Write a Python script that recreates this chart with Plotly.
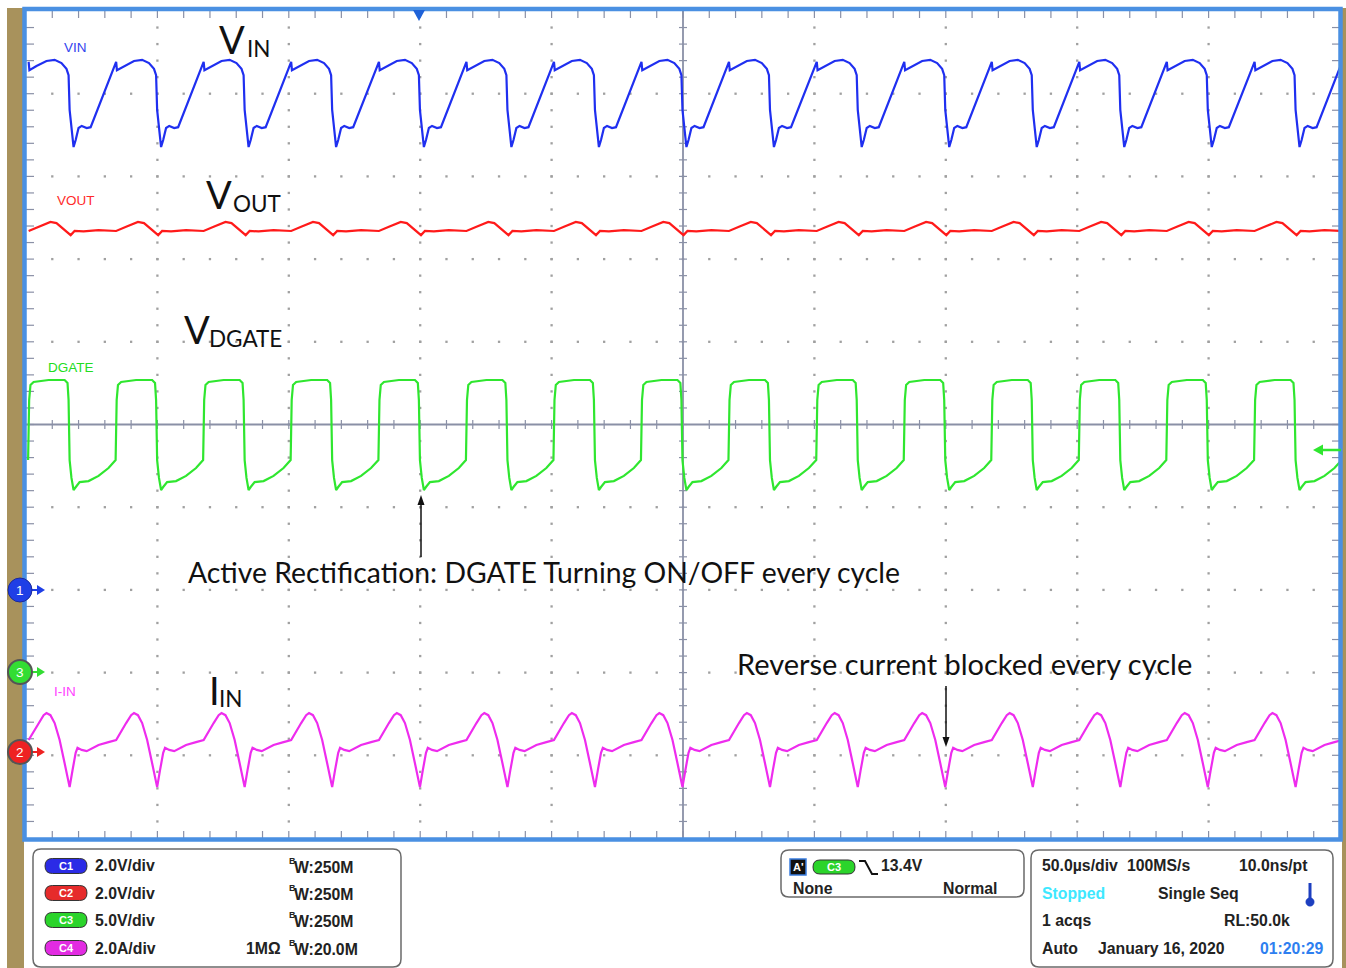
import plotly.graph_objects as go

# ---------------- data read from the scope capture ----------------
# time (us) of each cycle's switching edge (VIN drop / DGATE turn-off); last one is off-screen
cycle_edges_us = [-233.8, -200.5, -167.2, -133.9, -100.5, -67.2, -33.9, -0.6,
                  32.7, 66.1, 99.4, 132.7, 166.0, 199.3, 232.7, 266.0]

# one cycle of each waveform: time relative to the edge (us) and value
vin_dt = [-15.2, -14.9, -12.2, -8.4, -5.3, -2.7, -0.8, 0.0, 0.4, 1.1, 1.9, 2.7, 3.8, 5.0, 6.9, 8.4]
vin_v = [12.77, 12.57, 12.67, 12.79, 12.82, 12.74, 12.60, 12.45, 11.61, 11.12, 10.71, 10.88,
         11.17, 11.22, 11.17, 11.19]

vout_dt = [-15.2, -11.4, -6.9, -4.6, -2.3, 0.0, 0.8, 2.3, 5.7, 11.4, 17.1]
vout_v = [12.68, 12.78, 12.90, 12.87, 12.75, 12.61, 12.58, 12.68, 12.67, 12.70, 12.68]

dgate_dt = [-15.4, -15.0, -14.5, -13.3, -7.6, -1.5, -0.4, 0.0, 0.4, 1.1, 1.9, 2.7, 4.2, 7.6,
            11.4, 15.2, 17.5]
dgate_v = [12.85, 16.48, 17.39, 17.57, 17.69, 17.69, 17.51, 16.48, 12.85, 11.77, 11.04, 11.22,
           11.52, 11.58, 11.89, 12.37, 12.79]

iin_dt = [-15.2, -11.4, -9.5, -8.4, -6.9, -5.3, -3.4, -1.5, 0.4, 1.5, 2.7, 3.4, 5.0, 6.9,
          11.4, 15.2, 17.5]
iin_a = [0.37, 0.78, 0.97, 1.02, 0.97, 0.78, 0.37, -0.19, -0.77, -0.36, 0.06, 0.18, 0.13,
         0.10, 0.25, 0.32, 0.35]

channel_labels = ["VIN", "VOUT", "DGATE", "I-IN"]
channel_scale = [2.0, 2.0, 5.0, 2.0]          # units per division
channel_offset_div = [-2, -4, -3, -4]          # ground marker position (div)
channel_colors = ["#1f2ff0", "#ff1a1a", "#2fe62f", "#ee2cee"]
panel_badges = ["C1", "C2", "C3", "C4"]
panel_scales = ["2.0V/div", "2.0V/div", "5.0V/div", "2.0A/div"]
panel_bw = ["250M", "250M", "250M", "20.0M"]
badge_colors = ["#2b2be6", "#e62b2b", "#2bd42b", "#e22be2"]

# ---------------- geometry ----------------
IMG_W, IMG_H = 1346, 968
L, R, T, B = 26, 1340, 11, 838
PW, PH = R - L, B - T
X_RANGE = [-250, 250]
Y_RANGE = [-5, 5]
UX = (X_RANGE[1] - X_RANGE[0]) / PW
UY = (Y_RANGE[1] - Y_RANGE[0]) / PH


def fx(x):
    return (x - L) / PW


def fy(y):
    return (B - y) / PH


fig = go.Figure()

# ---------------- graticule ----------------
gx, gy = [], []
for i in range(1, 10):
    xv = -250 + 50 * i
    if xv == 0:
        continue
    for j in range(1, 50):
        gx.append(xv)
        gy.append(-5 + 0.2 * j)
for i in range(1, 10):
    yv = -5 + i
    if yv == 0:
        continue
    for j in range(1, 50):
        gx.append(-250 + 10 * j)
        gy.append(yv)
fig.add_trace(go.Scatter(x=gx, y=gy, mode="markers", hoverinfo="skip",
                         marker=dict(size=2.3, color="#a0a0a0", symbol="square", line=dict(width=0))))

tx, ty = [], []


def seg(x0, y0, x1, y1):
    tx.extend([x0, x1, None])
    ty.extend([y0, y1, None])


for j in range(1, 50):
    xv = -250 + 10 * j
    seg(xv, 5, xv, 5 - 7 * UY)
    seg(xv, -5, xv, -5 + 7 * UY)
    seg(xv, -4.5 * UY, xv, 4.5 * UY)
for j in range(1, 50):
    yv = -5 + 0.2 * j
    seg(-250, yv, -250 + 8 * UX, yv)
    seg(250, yv, 250 - 8 * UX, yv)
    seg(-4 * UX, yv, 4 * UX, yv)
fig.add_trace(go.Scatter(x=tx, y=ty, mode="lines", hoverinfo="skip",
                         line=dict(color="#8a90a6", width=1.2)))
fig.add_trace(go.Scatter(x=[-250, 250, None, 0, 0], y=[0, 0, None, -5, 5], mode="lines",
                         hoverinfo="skip", line=dict(color="#8a90a6", width=1.8)))

# ---------------- waveforms ----------------


def build(dt, vals, scale, off):
    xs, ys = [], []
    for e in cycle_edges_us:
        for t, v in zip(dt, vals):
            xs.append(e + t)
            ys.append(v / scale + off)
    return xs, ys


for k, (dt, vals) in enumerate([(vin_dt, vin_v), (vout_dt, vout_v),
                                (dgate_dt, dgate_v), (iin_dt, iin_a)]):
    xs, ys = build(dt, vals, channel_scale[k], channel_offset_div[k])
    fig.add_trace(go.Scatter(x=xs, y=ys, mode="lines", hoverinfo="skip",
                             line=dict(color=channel_colors[k], width=2.2)))

# ---------------- shapes ----------------
shapes = []


def rect(x0, y0, x1, y1, fill=None, line=None, lw=0, layer="above"):
    shapes.append(dict(type="rect", xref="paper", yref="paper", x0=fx(x0), x1=fx(x1),
                       y0=fy(y1), y1=fy(y0), fillcolor=fill or "rgba(0,0,0,0)",
                       line=dict(color=line or "rgba(0,0,0,0)", width=lw), layer=layer))


def path(pts, fill=None, line=None, lw=0, closed=True, layer="above"):
    s = "M " + " L ".join(f"{fx(x):.6f},{fy(y):.6f}" for x, y in pts)
    if closed:
        s += " Z"
    shapes.append(dict(type="path", xref="paper", yref="paper", path=s,
                       fillcolor=fill or "rgba(0,0,0,0)",
                       line=dict(color=line or "rgba(0,0,0,0)", width=lw), layer=layer))


def rrect(x0, y0, x1, y1, r, fill="white", line="#6a6a6a", lw=1.5, layer="above"):
    def p(x, y):
        return f"{fx(x):.6f},{fy(y):.6f}"
    s = (f"M {p(x0 + r, y0)} L {p(x1 - r, y0)} Q {p(x1, y0)} {p(x1, y0 + r)} "
         f"L {p(x1, y1 - r)} Q {p(x1, y1)} {p(x1 - r, y1)} L {p(x0 + r, y1)} "
         f"Q {p(x0, y1)} {p(x0, y1 - r)} L {p(x0, y0 + r)} Q {p(x0, y0)} {p(x0 + r, y0)} Z")
    shapes.append(dict(type="path", xref="paper", yref="paper", path=s, fillcolor=fill,
                       line=dict(color=line, width=lw), layer=layer))


def circle(cx, cy, r, fill, line, lw):
    shapes.append(dict(type="circle", xref="paper", yref="paper", x0=fx(cx - r), x1=fx(cx + r),
                       y0=fy(cy + r), y1=fy(cy - r), fillcolor=fill,
                       line=dict(color=line, width=lw), layer="above"))


def lineseg(x0, y0, x1, y1, color, lw):
    shapes.append(dict(type="line", xref="paper", yref="paper", x0=fx(x0), x1=fx(x1),
                       y0=fy(y0), y1=fy(y1), line=dict(color=color, width=lw), layer="above"))


# tan bezel strips
rect(7, 8, 24, IMG_H, fill="#a8925c", layer="below")
rect(1342, 8, IMG_W, IMG_H, fill="#a8925c", layer="below")
# blue graticule frame
rect(24.5, 9, 1340.5, 839.5, line="#4a90e2", lw=4.5)
# trigger position marker at top
path([(413, 10), (425, 10), (419, 21)], fill="#1e62d8")
# trigger level arrow on right
lineseg(1320, 450, 1341, 450, "#2fe62f", 2.5)
path([(1323, 444.5), (1323, 455.5), (1313, 450)], fill="#2fe62f")

annotations = []
PANEL_FONT = "Liberation Sans, Arial, sans-serif"
BIG_FONT = "Lato, Open Sans, sans-serif"
PS = 15.8  # panel font size


def txt(s, x, y, size, color="#222", anchor="left", family=PANEL_FONT, weight="normal"):
    annotations.append(dict(text=s, x=fx(x), y=fy(y), xref="paper", yref="paper",
                            xanchor=anchor, yanchor="middle", showarrow=False,
                            font=dict(size=size, color=color, family=family, weight=weight)))


# ground markers
for num, cy, fill, border in [("1", 590, "#1f3fe6", "#1a2a9a"),
                              ("3", 672, "#33dd33", "#555555"),
                              ("2", 752, "#ee2222", "#555555")]:
    lineseg(30, cy, 39, cy, fill, 2)
    path([(37, cy - 5), (37, cy + 5), (45, cy)], fill=fill)
    circle(20, cy, 12, fill, border, 2 if num != "1" else 1)
    txt(num, 20, cy, 13.5, color="white", anchor="center")

# arrows on the plot
lineseg(421, 557, 421, 503, "#111", 1.5)
path([(417.5, 505), (424.5, 505), (421, 495)], fill="#111")
lineseg(946, 686, 946, 739, "#111", 1.5)
path([(942.5, 737), (949.5, 737), (946, 747)], fill="#111")

# ---------------- bottom panels ----------------
rrect(33, 849, 401, 967, 8)
rrect(781, 850, 1024, 897, 8)
rrect(1031, 850, 1333, 967, 8)

row_y = [866, 893, 920, 948]
for k in range(4):
    cy = row_y[k]
    rrect(45, cy - 7.5, 87, cy + 7.5, 7.5, fill=badge_colors[k], line="#333333", lw=1)
    txt(panel_badges[k], 66, cy, 11, color="white", anchor="center", weight="bold")
    txt(panel_scales[k], 93, cy, PS, weight="bold")
    txt("B", 287, cy - 5, 9, weight="bold")
    txt("W:" + panel_bw[k], 292, cy + 1, PS, weight="bold")
txt("1MΩ", 244, row_y[3], PS, weight="bold")

# trigger box
rect(790, 859, 806, 875, fill="#111111", line="#3a7de0", lw=1.5)
txt("A'", 798, 867, 11, color="white", anchor="center", weight="bold")
rrect(813, 860, 855, 874, 7, fill="#2bd42b", line="#333333", lw=1)
txt("C3", 834, 867, 11, color="white", anchor="center", weight="bold")
path([(859, 861), (865, 861), (872, 874), (878, 874)], line="#111", lw=2, closed=False)
txt("13.4V", 879, 866, PS, weight="bold")
txt("None", 791, 888, PS, weight="bold")
txt("Normal", 999, 888, PS, weight="bold", anchor="right")

# acquisition box
txt("50.0µs/div", 1040, 866, PS, weight="bold")
txt("100MS/s", 1125, 866, PS, weight="bold")
txt("10.0ns/pt", 1310, 866, PS, weight="bold", anchor="right")
txt("Stopped", 1040, 893, PS, color="#3ee8ff", weight="bold")
txt("Single Seq", 1156, 893, PS, weight="bold")
lineseg(1310, 883, 1310, 899, "#1d3fc0", 3)
circle(1310, 902, 4.2, "#1d3fc0", "#1d3fc0", 0.5)
txt("1 acqs", 1040, 920, PS, weight="bold")
txt("RL:50.0k", 1292, 920, PS, weight="bold", anchor="right")
txt("Auto", 1040, 948, PS, weight="bold")
txt("January 16, 2020", 1096, 948, PS, weight="bold")
txt("01:20:29", 1325, 948, PS, color="#2e7ff0", weight="bold", anchor="right")

# ---------------- channel labels on screen ----------------
NARROW = "Liberation Sans Narrow, Arial Narrow, Liberation Sans, sans-serif"
txt(channel_labels[0], 62, 47, 13.5, color="#3344ee", family=NARROW)
txt(channel_labels[1], 55, 201, 13.5, color="#ff2a2a", family=NARROW)
txt(channel_labels[2], 46, 367, 13.5, color="#22dd22", family=NARROW)
txt(channel_labels[3], 52, 691, 13.5, color="#ff44ff", family=NARROW)

# ---------------- big annotations ----------------
BIGC = "#111111"
SUB = 22.5
txt("V", 217, 39, 38, color=BIGC, family=BIG_FONT)
txt("IN", 245, 48.5, SUB, color=BIGC, family=BIG_FONT)
txt("V", 204, 193.5, 38, color=BIGC, family=BIG_FONT)
txt("OUT", 231, 203.5, SUB, color=BIGC, family=BIG_FONT)
txt("V", 182, 328.5, 38, color=BIGC, family=BIG_FONT)
txt("DGATE", 207, 338.5, SUB, color=BIGC, family=BIG_FONT)
txt("I", 207, 689.5, 38, color=BIGC, family=BIG_FONT)
txt("IN", 217, 698.5, SUB, color=BIGC, family=BIG_FONT)
txt("Active Rectification: DGATE Turning ON/OFF every cycle", 186, 572, 28.35,
    color=BIGC, family=BIG_FONT)
txt("Reverse current blocked every cycle", 735, 663, 29.0, color=BIGC, family=BIG_FONT)

fig.update_layout(
    width=IMG_W, height=IMG_H, autosize=False,
    margin=dict(l=L, r=IMG_W - R, t=T, b=IMG_H - B, pad=0),
    paper_bgcolor="white", plot_bgcolor="white", showlegend=False,
    xaxis=dict(range=X_RANGE, visible=False, fixedrange=True),
    yaxis=dict(range=Y_RANGE, visible=False, fixedrange=True),
    shapes=shapes, annotations=annotations, hovermode=False,
)

fig.write_html("out.html", config={"displayModeBar": False},
               post_script="document.body.style.margin='0px';document.body.style.overflow='hidden';")
